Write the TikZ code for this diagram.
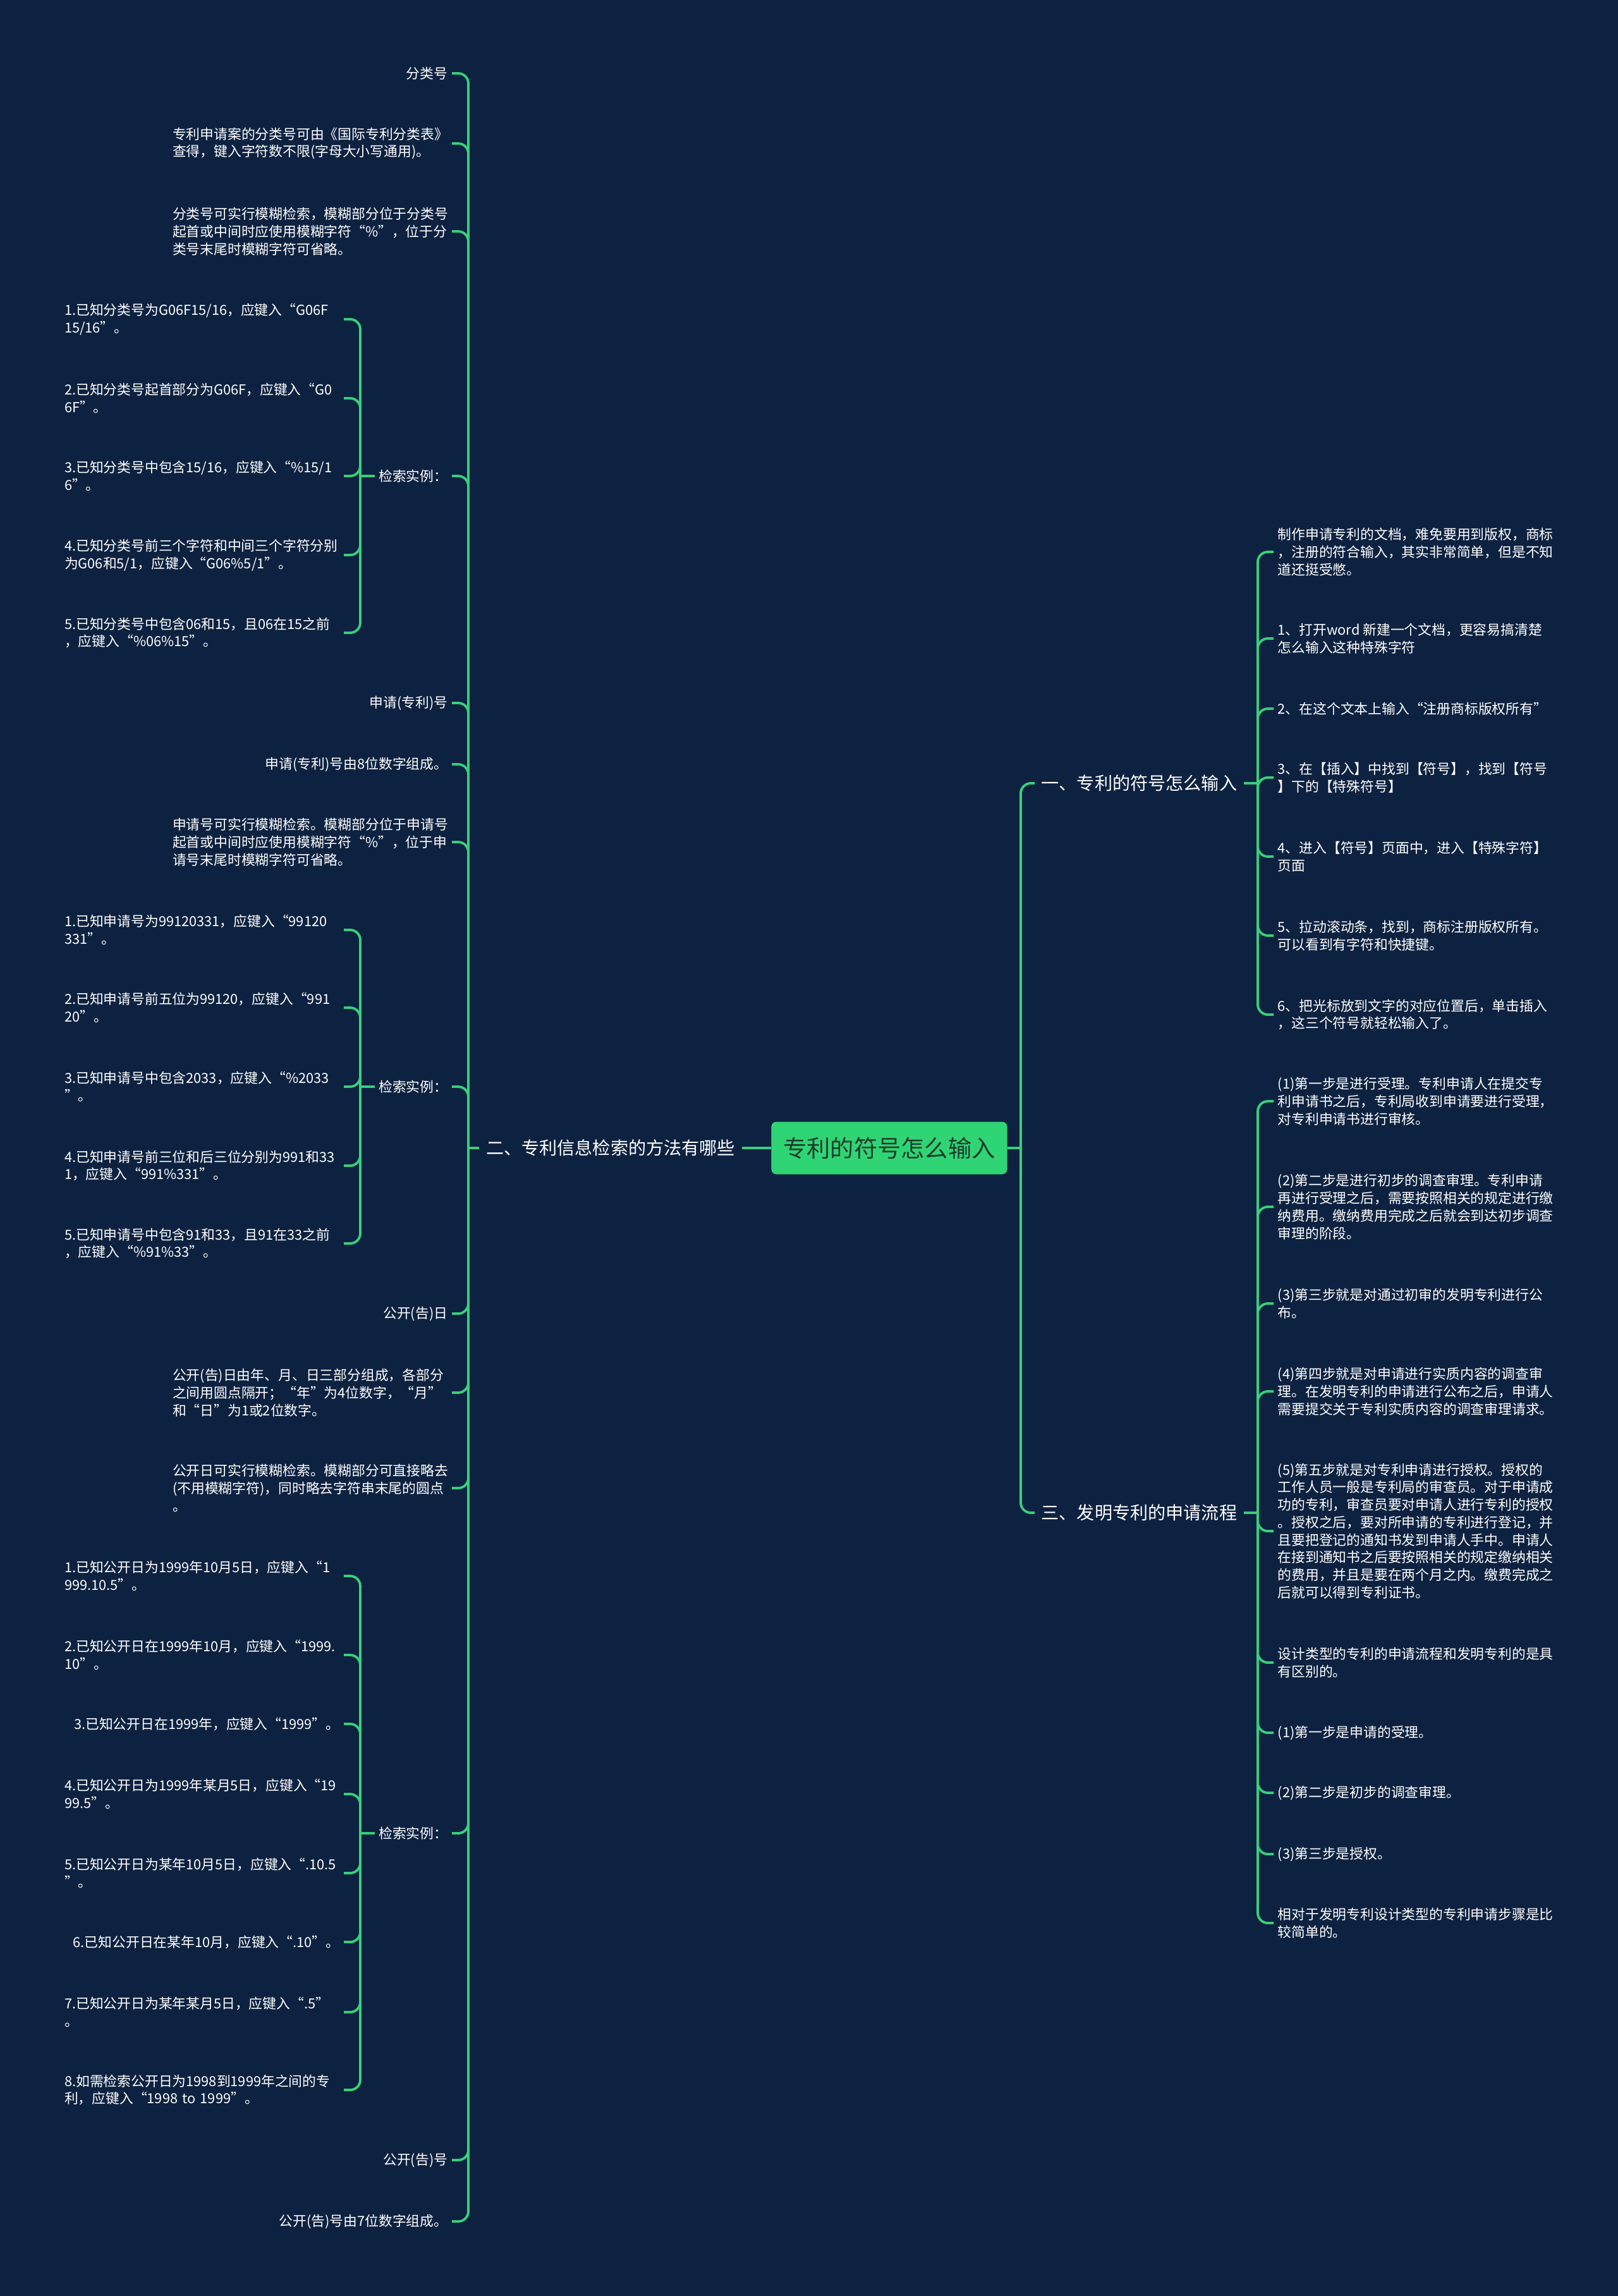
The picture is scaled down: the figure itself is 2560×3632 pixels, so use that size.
\documentclass[tikz,border=0pt]{standalone}
\usepackage{fontspec}
\setmainfont{Noto Sans CJK SC}
\usepackage{xcolor}
\usepackage{tikz}
\usetikzlibrary{positioning}
\definecolor{bgnavy}{HTML}{0D2240}
\definecolor{linkgreen}{HTML}{38CF7B}
\definecolor{rootgreen}{HTML}{2FD574}
\definecolor{rootink}{HTML}{1B3A2C}
\tikzset{
  root box/.style={
    rectangle,
    rounded corners=0.8mm,
    fill=rootgreen,
    text=rootink,
    minimum width=3.73cm,
    minimum height=0.83cm,
    inner sep=0pt,
    font=\fontsize{10.6pt}{12pt}\selectfont
  },
  branch/.style={
    text=white,
    inner xsep=1mm,
    inner ysep=0pt,
    font=\fontsize{8pt}{10pt}\selectfont
  },
  leaf/.style={
    text=white,
    align=left,
    inner xsep=0.6mm,
    inner ysep=0pt,
    font=\fontsize{6.2pt}{7.9pt}\selectfont
  },
  wrapped/.style={
    leaf,
    text width=4.35cm
  },
  link/.style={
    draw=linkgreen,
    line width=1.1pt,
    rounded corners=1.6mm
  }
}

\begin{document}
\begin{tikzpicture}[x=0.01cm,y=-0.01cm]
  \useasboundingbox (0,0) rectangle (2560,3632);
  \fill[bgnavy] (0,0) rectangle (2560,3632);

  % Root and main branches
  \node[root box] (root) at (1407,1816) {专利的符号怎么输入};
  \node[branch, left=0.46cm of root] (secB) {二、专利信息检索的方法有哪些};
  \node[branch, anchor=west] (secA) at (1637,1239) {一、专利的符号怎么输入};
  \node[branch, anchor=west] (secC) at (1637,2393) {三、发明专利的申请流程};

  % Left branch: classification number
  \node[leaf, anchor=east] (clsNo) at (715,116) {分类号};
  \node[wrapped, anchor=east] (clsSrc) at (715,227) {专利申请案的分类号可由《国际专利分类表》\\查得，键入字符数不限(字母大小写通用)。};
  \node[wrapped, anchor=east] (clsFuzzy) at (715,366) {分类号可实行模糊检索，模糊部分位于分类号\\起首或中间时应使用模糊字符“\%”，位于分\\类号末尾时模糊字符可省略。};
  \node[leaf, anchor=east] (clsEx) at (715,753) {检索实例：};
  \node[wrapped, anchor=east] (clsEx1) at (544,505) {1.已知分类号为G06F15/16，应键入“G06F\\15/16”。};
  \node[wrapped, anchor=east] (clsEx2) at (544,630) {2.已知分类号起首部分为G06F，应键入“G0\\6F”。};
  \node[wrapped, anchor=east] (clsEx3) at (544,753) {3.已知分类号中包含15/16，应键入“\%15/1\\6”。};
  \node[wrapped, anchor=east] (clsEx4) at (544,878) {4.已知分类号前三个字符和中间三个字符分别\\为G06和5/1，应键入“G06\%5/1”。};
  \node[wrapped, anchor=east] (clsEx5) at (544,1001) {5.已知分类号中包含06和15，且06在15之前\\，应键入“\%06\%15”。};

  % Left branch: application number
  \node[leaf, anchor=east] (appNo) at (715,1112) {申请(专利)号};
  \node[leaf, anchor=east] (appLen) at (715,1209) {申请(专利)号由8位数字组成。};
  \node[wrapped, anchor=east] (appFuzzy) at (715,1332) {申请号可实行模糊检索。模糊部分位于申请号\\起首或中间时应使用模糊字符“\%”，位于申\\请号末尾时模糊字符可省略。};
  \node[leaf, anchor=east] (appEx) at (715,1719) {检索实例：};
  \node[wrapped, anchor=east] (appEx1) at (544,1471) {1.已知申请号为99120331，应键入“99120\\331”。};
  \node[wrapped, anchor=east] (appEx2) at (544,1594) {2.已知申请号前五位为99120，应键入“991\\20”。};
  \node[wrapped, anchor=east] (appEx3) at (544,1719) {3.已知申请号中包含2033，应键入“\%2033\\”。};
  \node[wrapped, anchor=east] (appEx4) at (544,1844) {4.已知申请号前三位和后三位分别为991和33\\1，应键入“991\%331”。};
  \node[wrapped, anchor=east] (appEx5) at (544,1967) {5.已知申请号中包含91和33，且91在33之前\\，应键入“\%91\%33”。};

  % Left branch: publication date and number
  \node[leaf, anchor=east] (pubDate) at (715,2078) {公开(告)日};
  \node[wrapped, anchor=east] (pubFmt) at (715,2203) {公开(告)日由年、月、日三部分组成，各部分\\之间用圆点隔开；“年”为4位数字，“月”\\和“日”为1或2位数字。};
  \node[wrapped, anchor=east] (pubFuzzy) at (715,2354) {公开日可实行模糊检索。模糊部分可直接略去\\(不用模糊字符)，同时略去字符串末尾的圆点\\。};
  \node[leaf, anchor=east] (pubEx) at (715,2900) {检索实例：};
  \node[wrapped, anchor=east] (pubEx1) at (544,2493) {1.已知公开日为1999年10月5日，应键入“1\\999.10.5”。};
  \node[wrapped, anchor=east] (pubEx2) at (544,2618) {2.已知公开日在1999年10月，应键入“1999.\\10”。};
  \node[leaf, anchor=east] (pubEx3) at (544,2727) {3.已知公开日在1999年，应键入“1999”。};
  \node[wrapped, anchor=east] (pubEx4) at (544,2838) {4.已知公开日为1999年某月5日，应键入“19\\99.5”。};
  \node[wrapped, anchor=east] (pubEx5) at (544,2963) {5.已知公开日为某年10月5日，应键入“.10.5\\”。};
  \node[leaf, anchor=east] (pubEx6) at (544,3072) {6.已知公开日在某年10月，应键入“.10”。};
  \node[wrapped, anchor=east] (pubEx7) at (544,3183) {7.已知公开日为某年某月5日，应键入“.5”\\。};
  \node[wrapped, anchor=east] (pubEx8) at (544,3306) {8.如需检索公开日为1998到1999年之间的专\\利，应键入“1998 to 1999”。};
  \node[leaf, anchor=east] (pubNo) at (715,3417) {公开(告)号};
  \node[leaf, anchor=east] (pubLen) at (715,3514) {公开(告)号由7位数字组成。};

  % Right branch one: typing the symbols
  \node[leaf, anchor=west] (symIntro) at (2015,873) {制作申请专利的文档，难免要用到版权，商标\\，注册的符合输入，其实非常简单，但是不知\\道还挺受憋。};
  \node[leaf, anchor=west] (sym1) at (2015,1010) {1、打开word 新建一个文档，更容易搞清楚\\怎么输入这种特殊字符};
  \node[leaf, anchor=west] (sym2) at (2015,1121) {2、在这个文本上输入“注册商标版权所有”};
  \node[leaf, anchor=west] (sym3) at (2015,1230) {3、在【插入】中找到【符号】，找到【符号\\】下的【特殊符号】};
  \node[leaf, anchor=west] (sym4) at (2015,1355) {4、进入【符号】页面中，进入【特殊字符】\\页面};
  \node[leaf, anchor=west] (sym5) at (2015,1480) {5、拉动滚动条，找到，商标注册版权所有。\\可以看到有字符和快捷键。};
  \node[leaf, anchor=west] (sym6) at (2015,1605) {6、把光标放到文字的对应位置后，单击插入\\，这三个符号就轻松输入了。};

  % Right branch three: application flow
  \node[leaf, anchor=west] (flow1) at (2015,1742) {(1)第一步是进行受理。专利申请人在提交专\\利申请书之后，专利局收到申请要进行受理，\\对专利申请书进行审核。};
  \node[leaf, anchor=west] (flow2) at (2015,1909) {(2)第二步是进行初步的调查审理。专利申请\\再进行受理之后，需要按照相关的规定进行缴\\纳费用。缴纳费用完成之后就会到达初步调查\\审理的阶段。};
  \node[leaf, anchor=west] (flow3) at (2015,2062) {(3)第三步就是对通过初审的发明专利进行公\\布。};
  \node[leaf, anchor=west] (flow4) at (2015,2201) {(4)第四步就是对申请进行实质内容的调查审\\理。在发明专利的申请进行公布之后，申请人\\需要提交关于专利实质内容的调查审理请求。};
  \node[leaf, anchor=west] (flow5) at (2015,2422) {(5)第五步就是对专利申请进行授权。授权的\\工作人员一般是专利局的审查员。对于申请成\\功的专利，审查员要对申请人进行专利的授权\\。授权之后，要对所申请的专利进行登记，并\\且要把登记的通知书发到申请人手中。申请人\\在接到通知书之后要按照相关的规定缴纳相关\\的费用，并且是要在两个月之内。缴费完成之\\后就可以得到专利证书。};
  \node[leaf, anchor=west] (design) at (2015,2630) {设计类型的专利的申请流程和发明专利的是具\\有区别的。};
  \node[leaf, anchor=west] (dstep1) at (2015,2741) {(1)第一步是申请的受理。};
  \node[leaf, anchor=west] (dstep2) at (2015,2836) {(2)第二步是初步的调查审理。};
  \node[leaf, anchor=west] (dstep3) at (2015,2933) {(3)第三步是授权。};
  \node[leaf, anchor=west] (designNote) at (2015,3042) {相对于发明专利设计类型的专利申请步骤是比\\较简单的。};

  % Hubs
  \coordinate (leftHub) at (741,1816);
  \coordinate (clsHub) at (570,753);
  \coordinate (appHub) at (570,1719);
  \coordinate (pubHub) at (570,2900);
  \coordinate (rightHub) at (1615,1816);
  \coordinate (symHub) at (1990,1239);
  \coordinate (flowHub) at (1990,2393);

  % Connectors
  \draw[link] (root.west) -- (secB.east);
  \draw[link] (root.east) -- (rightHub);
  \draw[link] (rightHub) |- (secA.west);
  \draw[link] (rightHub) |- (secC.west);

  \draw[link] (secB.west) -- (leftHub);
  \foreach \n in {clsNo,clsSrc,clsFuzzy,clsEx,appNo,appLen,appFuzzy,appEx,pubDate,pubFmt,pubFuzzy,pubEx,pubNo,pubLen}
    \draw[link] (leftHub) |- (\n.east);

  \draw[link] (clsEx.west) -- (clsHub);
  \foreach \n in {clsEx1,clsEx2,clsEx3,clsEx4,clsEx5}
    \draw[link] (clsHub) |- (\n.east);
  \draw[link] (appEx.west) -- (appHub);
  \foreach \n in {appEx1,appEx2,appEx3,appEx4,appEx5}
    \draw[link] (appHub) |- (\n.east);
  \draw[link] (pubEx.west) -- (pubHub);
  \foreach \n in {pubEx1,pubEx2,pubEx3,pubEx4,pubEx5,pubEx6,pubEx7,pubEx8}
    \draw[link] (pubHub) |- (\n.east);

  \draw[link] (secA.east) -- (symHub);
  \foreach \n in {symIntro,sym1,sym2,sym3,sym4,sym5,sym6}
    \draw[link] (symHub) |- (\n.west);
  \draw[link] (secC.east) -- (flowHub);
  \foreach \n in {flow1,flow2,flow3,flow4,flow5,design,dstep1,dstep2,dstep3,designNote}
    \draw[link] (flowHub) |- (\n.west);
\end{tikzpicture}
\end{document}
